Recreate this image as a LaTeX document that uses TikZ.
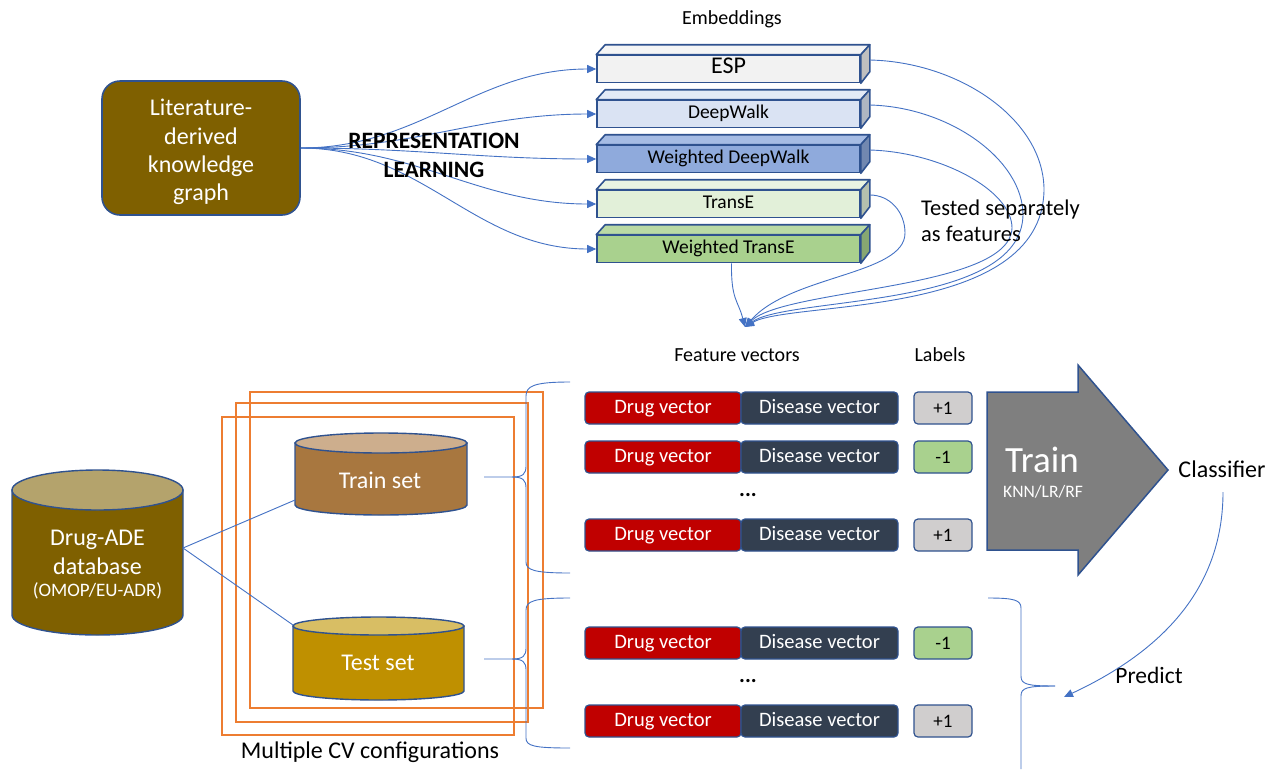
\documentclass[tikz,border=0pt]{standalone}
\usepackage{fontspec}
\setmainfont{Carlito}
\usetikzlibrary{arrows.meta,calc}
\definecolor{kgbrown}{HTML}{7F6000}
\definecolor{bordblue}{HTML}{2F528F}
\definecolor{connblue}{HTML}{4472C4}
\definecolor{cvorange}{HTML}{ED7D31}
\definecolor{espF}{HTML}{F2F2F2}
\definecolor{espT}{HTML}{F5F5F5}
\definecolor{espS}{HTML}{BFBFBF}
\definecolor{dwF}{HTML}{DAE3F3}
\definecolor{dwT}{HTML}{E3EAF6}
\definecolor{dwS}{HTML}{AEB6C2}
\definecolor{wdwF}{HTML}{8FAADC}
\definecolor{wdwT}{HTML}{A6BCE4}
\definecolor{wdwS}{HTML}{7288B0}
\definecolor{teF}{HTML}{E2F0D9}
\definecolor{teT}{HTML}{E9F4E2}
\definecolor{teS}{HTML}{B5C0AE}
\definecolor{wteF}{HTML}{A9D18E}
\definecolor{wteT}{HTML}{BADAA5}
\definecolor{wteS}{HTML}{87A772}
\definecolor{drugred}{HTML}{C00000}
\definecolor{disnavy}{HTML}{333F50}
\definecolor{labgray}{HTML}{D0CECE}
\definecolor{labgreen}{HTML}{A9D18E}
\definecolor{trainbody}{HTML}{A8773F}
\definecolor{traintop}{HTML}{CDAE8D}
\definecolor{testbody}{HTML}{BF9000}
\definecolor{testtop}{HTML}{D8BE64}
\definecolor{dbtop}{HTML}{B4A36C}
\definecolor{arrowgray}{HTML}{7F7F7F}
\tikzset{
  conn/.style={draw=connblue, line width=0.9pt},
  arr/.style={conn, -{Triangle[length=9pt,width=8pt]}},
  emb/.style={draw=bordblue, line width=1.6pt, minimum width=263pt, minimum height=27pt, inner sep=0pt, text height=13pt, text depth=4pt},
  facestyle/.style={draw=bordblue, line width=1.6pt, line join=round},
  vec/.style={draw=bordblue, line width=1.2pt, rounded corners=4pt, minimum height=32pt, inner sep=0pt, text=white, font=\fontsize{20.5}{22}\selectfont, text height=14pt, text depth=4pt},
  labbox/.style={draw=bordblue, line width=1.2pt, rounded corners=4pt, minimum height=32pt, minimum width=58pt, inner sep=0pt, font=\fontsize{19}{20}\selectfont},
  cvframe/.style={draw=cvorange, line width=2pt},
  cylstyle/.style={draw=bordblue, line width=1.4pt},
  plain/.style={font=\fontsize{#1}{#1}\selectfont, inner sep=0pt},
  plain/.default=20
}
\begin{document}
\begin{tikzpicture}[x=1pt,y=-1pt]
\useasboundingbox (0,0) rectangle (1266,769);

% ---------- knowledge graph ----------
\node[draw=bordblue, line width=1.6pt, fill=kgbrown, rounded corners=18pt,
      minimum width=198pt, minimum height=134pt] (kg) at (201,148) {};
\node[text=white, align=center, inner sep=0pt, font=\fontsize{24}{28.3}\selectfont] (kgtext) at (201,152)
      {Literature-\\derived\\knowledge\\graph};

% ---------- embeddings ----------
\node[plain=20] (embt) at (732,19) {Embeddings};
\foreach \n/\yy/\cf/\ct/\cs/\t/\fs in {
  esp/69/espF/espT/espS/ESP/24,
  dw/114/dwF/dwT/dwS/DeepWalk/19.5,
  wdw/159/wdwF/wdwT/wdwS/Weighted DeepWalk/19.5,
  te/204/teF/teT/teS/TransE/19.5,
  wte/249/wteF/wteT/wteS/Weighted TransE/19.5}
{
  \node[emb, fill=\cf, font=\fontsize{\fs}{\fs}\selectfont] (\n) at (728.5,\yy) {\t};
  \filldraw[facestyle, fill=\ct] (\n.north west) -- ++(9,-10) -- ($(\n.north east)+(9,-10)$) -- (\n.north east) -- cycle;
  \filldraw[facestyle, fill=\cs] (\n.north east) -- ++(9,-10) -- ++(0,27) -- (\n.south east) -- cycle;
  \draw[arr] (kg.east) to[out=0,in=180] (\n.west);
}

\node[font=\bfseries\fontsize{23.5}{29}\selectfont, align=center, inner sep=0pt] (rl) at (434,155) {REPRESENTATION\\LEARNING};

% ---------- converging curves ----------
\coordinate (fv) at (745,327);
\draw[arr] ($(esp.east)+(9,-9)$) .. controls (960,62) and (1044,120) .. (1044,190)
  .. controls (1042,320) and (790,300) .. (fv);
\draw[arr] ($(dw.east)+(9,-9)$) .. controls (950,107) and (1023,160) .. (1023,215)
  .. controls (1021,310) and (788,296) .. (fv);
\draw[arr] ($(wdw.east)+(9,-9)$) .. controls (940,152) and (1012,190) .. (1012,228)
  .. controls (1010,290) and (785,288) .. (fv);
\draw[arr] ($(te.east)+(9,-9)$) .. controls (890,195) and (905,212) .. (905,233)
  .. controls (905,275) and (790,275) .. (fv);
\draw[arr] ($(wte.south)+(3,0)$) .. controls (731,300) and (738,300) .. (fv);

\node[font=\fontsize{22.5}{26}\selectfont, align=left, anchor=west, inner sep=0pt] (tested) at (921,221) {Tested separately\\as features};

% ---------- feature vectors ----------
\node[plain=20] (fvt) at (737,355) {Feature vectors};
\node[plain=20] (labt) at (940,355) {Labels};

\foreach \r/\yy/\lc/\lt in {r1/408/labgray/+1, r2/457/labgreen/-1, r3/535/labgray/+1, r4/643/labgreen/-1, r5/721/labgray/+1}
{
  \node[vec, fill=drugred, minimum width=156pt] (drug\r) at (663,\yy) {Drug vector};
  \node[vec, fill=disnavy, minimum width=157pt] (dis\r) at (819.5,\yy) {Disease vector};
  \node[labbox, fill=\lc] (lab\r) at (943,\yy) {\lt};
}
\node[font=\bfseries\fontsize{22}{22}\selectfont, inner sep=0pt] (dots1) at (748,495) {...};
\node[font=\bfseries\fontsize{22}{22}\selectfont, inner sep=0pt] (dots2) at (748,681) {...};

% ---------- train arrow ----------
\filldraw[fill=arrowgray, draw=bordblue, line width=1.5pt, line join=miter]
  (987,392) -- (1078,392) -- (1078,365) -- (1168,470) -- (1078,575) -- (1078,550) -- (987,550) -- cycle;
\node[text=white, plain=37] (train) at (1042,460) {Train};
\node[text=white, plain=17.5] (knn) at (1043,492) {KNN/LR/RF};
\node[plain=24] (cls) at (1222,469) {Classifier};
\node[plain=23.5] (pred) at (1149,675) {Predict};
\coordinate (clsB) at (1223,492);
\coordinate (predT) at (1064,697);
\draw[arr] (clsB) to[out=-90,in=25] (predT);

% ---------- CV frames ----------
\draw[cvframe] (250,392) rectangle (543,708);
\draw[cvframe] (236,403) rectangle (528,722);
\draw[cvframe] (222,417) rectangle (514,735);
\node[plain=24] (cvt) at (370,752) {Multiple CV configurations};

% ---------- cylinders ----------
% Drug-ADE database
\filldraw[cylstyle, fill=kgbrown] (12,490) -- (12,615) arc[start angle=180,end angle=0,x radius=85.5,y radius=20] -- (183,490) -- cycle;
\filldraw[cylstyle, fill=dbtop] (97.5,490) ellipse [x radius=85.5, y radius=20];
\node[text=white, align=center, font=\fontsize{24}{29}\selectfont, inner sep=0pt] (db) at (97.5,552) {Drug-ADE\\database};
\node[text=white, plain=19] (dbsub) at (97.5,591) {(OMOP/EU-ADR)};
% Train set
\filldraw[cylstyle, fill=trainbody] (295,443) -- (295,505) arc[start angle=180,end angle=0,x radius=86,y radius=10] -- (467,443) -- cycle;
\filldraw[cylstyle, fill=traintop] (381,443) ellipse [x radius=86, y radius=10];
\node[text=white, plain=24] (trainset) at (380,480) {Train set};
% Test set
\filldraw[cylstyle, fill=testbody] (293,626) -- (293,691) arc[start angle=180,end angle=0,x radius=85.5,y radius=9] -- (464,626) -- cycle;
\filldraw[cylstyle, fill=testtop] (378.5,626) ellipse [x radius=85.5, y radius=9];
\node[text=white, plain=24] (testset) at (378,663) {Test set};

\coordinate (dbR) at (183,548);
\coordinate (trainL) at (295,500);
\coordinate (testL) at (293,625);
\draw[conn] (trainL) -- (dbR) -- (testL);

% ---------- braces ----------
\coordinate (trainR) at (484,477);
\coordinate (testR) at (484,659);
\draw[conn] (trainR) -- (512,477) .. controls (523,477) and (526,474) .. (526,466) -- (526,396)
  .. controls (526,386) and (534,382) .. (570,382);
\draw[conn] (512,477) .. controls (523,477) and (526,480) .. (526,488) -- (526,562)
  .. controls (526,570) and (534,573) .. (570,573);
\draw[conn] (testR) -- (512,659) .. controls (523,659) and (526,656) .. (526,648) -- (526,610)
  .. controls (526,601) and (534,598) .. (570,598);
\draw[conn] (512,659) .. controls (523,659) and (526,662) .. (526,670) -- (526,738)
  .. controls (526,746) and (534,748) .. (570,748);
\coordinate (rbTip) at (1055,686);
\draw[conn] (988,598) .. controls (1014,598) and (1021,600) .. (1021,608) -- (1021,676)
  .. controls (1021,684) and (1026,686) .. (rbTip);
\draw[conn] (rbTip) .. controls (1026,686) and (1021,688) .. (1021,696) -- (1021,769);
\end{tikzpicture}
\end{document}
